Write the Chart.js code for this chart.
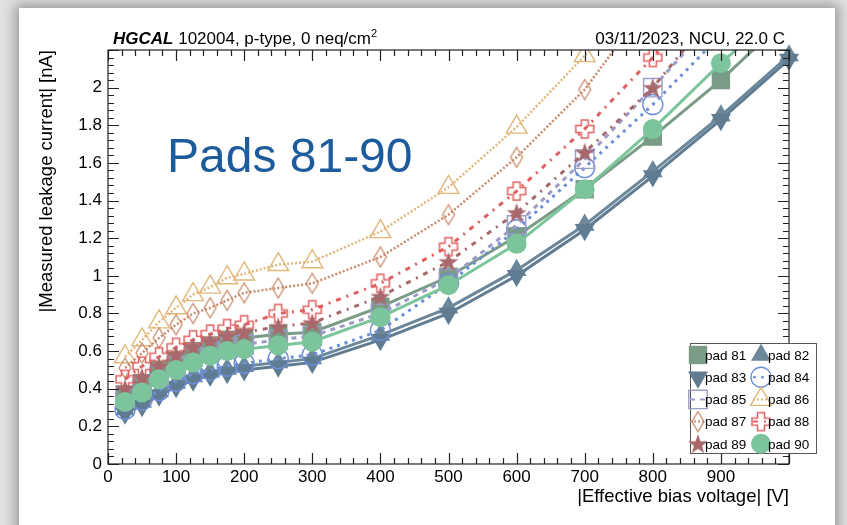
<!DOCTYPE html>
<html>
<head>
<meta charset="utf-8">
<script src="https://cdn.jsdelivr.net/npm/chart.js@4.4.1/dist/chart.umd.min.js"></script>
<style>
  html, body { margin: 0; padding: 0; }
  body { width: 847px; height: 525px; background: #e2e2e2; position: relative; overflow: hidden; font-family: "Liberation Sans", Arial, sans-serif; }
  #card { position: absolute; left: 19px; top: 8px; width: 816px; height: 540px; background: #fff; box-shadow: 0 0 12px 4px rgba(0,0,0,0.32); }
  #myChart { position: absolute; left: 0; top: 0; }
  .hdr { position: absolute; top: 30px; font-size: 17px; line-height: 18px; color: #000; white-space: nowrap; }
  .hdr sup { font-size: 11px; line-height: 0; }
  #pads { position: absolute; left: 167px; top: 132px; font-size: 48px; line-height: 48px; color: #1d5c9c; white-space: nowrap; }
</style>
</head>
<body>
<div id="card"></div>
<canvas id="myChart" width="847" height="525"></canvas>
<div class="hdr" style="left:113px;"><b><i>HGCAL</i></b> 102004, p-type, 0 neq/cm<sup>2</sup></div>
<div class="hdr" style="right:62px;">03/11/2023, NCU, 22.0 C</div>
<div id="pads">Pads 81-90</div>
<script>
// bias voltage points (V)
var voltage = [25, 50, 75, 100, 125, 150, 175, 200, 250, 300, 400, 500, 600, 700, 800, 900, 1000];

// leakage current per pad (nA)
var pad81 = [0.37, 0.43, 0.50, 0.55, 0.60, 0.63, 0.66, 0.67, 0.69, 0.70, 0.835, 0.995, 1.21, 1.46, 1.74, 2.04, 2.38];
var pad82 = [0.29, 0.33, 0.385, 0.43, 0.465, 0.49, 0.505, 0.52, 0.54, 0.56, 0.685, 0.83, 1.03, 1.27, 1.555, 1.85, 2.17];
var pad83 = [0.27, 0.31, 0.365, 0.41, 0.445, 0.47, 0.485, 0.50, 0.52, 0.54, 0.66, 0.80, 1.00, 1.245, 1.53, 1.83, 2.15];
var pad84 = [0.29, 0.34, 0.39, 0.44, 0.48, 0.50, 0.52, 0.535, 0.56, 0.58, 0.71, 0.96, 1.245, 1.575, 1.91, 2.28];
var pad85 = [0.35, 0.41, 0.47, 0.52, 0.57, 0.60, 0.62, 0.635, 0.66, 0.68, 0.80, 0.985, 1.27, 1.62, 2.00, 2.40];
var pad86 = [0.57, 0.66, 0.755, 0.83, 0.90, 0.94, 0.99, 1.01, 1.06, 1.075, 1.235, 1.47, 1.79, 2.17, 2.60];
var pad87 = [0.51, 0.59, 0.67, 0.74, 0.80, 0.83, 0.87, 0.91, 0.935, 0.96, 1.10, 1.325, 1.63, 1.99, 2.48];
var pad88 = [0.45, 0.52, 0.57, 0.62, 0.66, 0.69, 0.72, 0.74, 0.80, 0.82, 0.96, 1.155, 1.45, 1.78, 2.16, 2.55];
var pad89 = [0.40, 0.46, 0.52, 0.58, 0.62, 0.65, 0.68, 0.70, 0.73, 0.75, 0.89, 1.075, 1.335, 1.655, 2.00, 2.44];
var pad90 = [0.33, 0.38, 0.45, 0.50, 0.54, 0.575, 0.60, 0.61, 0.63, 0.65, 0.78, 0.95, 1.17, 1.46, 1.78, 2.13, 2.45];

var padNames = ["pad 81", "pad 82", "pad 83", "pad 84", "pad 85", "pad 86", "pad 87", "pad 88", "pad 89", "pad 90"];
var xTickLabels = ["0", "100", "200", "300", "400", "500", "600", "700", "800", "900"];
var yTickLabels = ["0", "0.2", "0.4", "0.6", "0.8", "1", "1.2", "1.4", "1.6", "1.8", "2"];

Chart.defaults.font.family = '"Liberation Sans", Arial, sans-serif';
Chart.defaults.color = "#000";

function toPoints(vals) {
  return vals.map(function (v, i) { return { x: voltage[i], y: v }; });
}

// little canvases for ROOT-like markers chart.js doesn't have
function makeMarker(w, h, draw) {
  var c = document.createElement("canvas");
  c.width = w;
  c.height = h;
  draw(c.getContext("2d"), w, h);
  return c;
}
var starMarker = makeMarker(22, 22, function (g, w, h) {
  g.fillStyle = "#a8686c";
  g.beginPath();
  for (var k = 0; k < 10; k++) {
    var r = k % 2 ? 4.2 : 10.5;
    var a = -Math.PI / 2 + k * Math.PI / 5;
    g.lineTo(w / 2 + r * Math.cos(a), h / 2 + 0.8 + r * Math.sin(a));
  }
  g.closePath();
  g.fill();
});
var crossMarker = makeMarker(22, 22, function (g, w, h) {
  var c = w / 2, a = 3.5, b = 9;
  g.strokeStyle = "#e06060";
  g.lineWidth = 1.5;
  g.beginPath();
  g.moveTo(c - a, c - b); g.lineTo(c + a, c - b); g.lineTo(c + a, c - a); g.lineTo(c + b, c - a);
  g.lineTo(c + b, c + a); g.lineTo(c + a, c + a); g.lineTo(c + a, c + b); g.lineTo(c - a, c + b);
  g.lineTo(c - a, c + a); g.lineTo(c - b, c + a); g.lineTo(c - b, c - a); g.lineTo(c - a, c - a);
  g.closePath();
  g.stroke();
});
var diamondMarker = makeMarker(16, 24, function (g, w, h) {
  g.strokeStyle = "#c98b6b";
  g.lineWidth = 1.3;
  g.beginPath();
  g.moveTo(w / 2, 2); g.lineTo(w - 2, h / 2); g.lineTo(w / 2, h - 2); g.lineTo(2, h / 2);
  g.closePath();
  g.stroke();
});

function series(i, vals, color, opts) {
  var ds = {
    label: padNames[i],
    data: toPoints(vals),
    borderColor: color,
    borderWidth: opts.width || 2.5,
    borderDash: opts.dash || [],
    pointStyle: opts.style,
    pointRadius: opts.radius || 10,
    pointRotation: opts.rotation || 0,
    pointBackgroundColor: opts.open ? "rgba(0,0,0,0)" : color,
    pointBorderColor: color,
    pointBorderWidth: opts.open ? 1.4 : 0,
    tension: 0,
    fill: false,
    order: 10 - i
  };
  if (opts.noclip) ds.clip = false;
  return ds;
}

var datasets = [
  series(0, pad81, "#7a9b85", { style: "rect", radius: 13, width: 3 }),
  series(1, pad82, "#6b8799", { style: "triangle", radius: 11.5, width: 3, noclip: true }),
  series(2, pad83, "#5f7c93", { style: "triangle", radius: 11.5, rotation: 180, width: 3, noclip: true }),
  series(3, pad84, "#6d8fd8", { style: "circle", radius: 10, open: true, dash: [3, 5], width: 3 }),
  series(4, pad85, "#9c9cc8", { style: "rect", radius: 13, open: true, dash: [5, 5], width: 3 }),
  series(5, pad86, "#e3b77a", { style: "triangle", radius: 12, open: true, dash: [2, 2], width: 2.5 }),
  series(6, pad87, "#c98b6b", { style: diamondMarker, dash: [2, 2], width: 2.5, open: true }),
  series(7, pad88, "#e06060", { style: crossMarker, dash: [5, 6, 2, 6], width: 3, open: true }),
  series(8, pad89, "#a8686c", { style: starMarker, dash: [5, 6, 2, 6], width: 3 }),
  series(9, pad90, "#7cc59c", { style: "circle", radius: 10, width: 3 })
];

// ROOT style frame with inward ticks on all four sides
var framePlugin = {
  id: "frame",
  afterDatasetsDraw: function (chart) {
    var ctx = chart.ctx, a = chart.chartArea, xs = chart.scales.x, ys = chart.scales.y;
    ctx.save();
    ctx.strokeStyle = "#222";
    ctx.lineWidth = 1.2;
    ctx.strokeRect(a.left, a.top, a.right - a.left, a.bottom - a.top);
    ctx.beginPath();
    for (var v = 0; v <= 1000; v += 20) {
      var px = Math.round(xs.getPixelForValue(v)) + 0.5;
      var len = v % 100 === 0 ? 11 : 6;
      ctx.moveTo(px, a.bottom); ctx.lineTo(px, a.bottom - len);
      ctx.moveTo(px, a.top); ctx.lineTo(px, a.top + len);
    }
    for (var k = 0; k <= 55; k++) {
      var py = Math.round(ys.getPixelForValue(k * 0.04)) + 0.5;
      var l2 = k % 5 === 0 ? 11 : 6;
      ctx.moveTo(a.left, py); ctx.lineTo(a.left + l2, py);
      ctx.moveTo(a.right, py); ctx.lineTo(a.right - l2, py);
    }
    ctx.stroke();
    ctx.restore();
  }
};

var legendPlugin = {
  id: "padLegend",
  afterDraw: function (chart) {
    var ctx = chart.ctx;
    ctx.save();
    ctx.fillStyle = "#fff";
    ctx.fillRect(690.5, 343.5, 126, 110);
    ctx.strokeStyle = "#555";
    ctx.lineWidth = 1;
    ctx.strokeRect(690.5, 343.5, 126, 110);
    chart.data.datasets.forEach(function (ds, i) {
      var col = i % 2, row = Math.floor(i / 2);
      var mx = col ? 761 : 698, my = 355 + row * 22.2;
      if (ds.borderDash.length && ds.pointBackgroundColor !== ds.borderColor) {
        ctx.setLineDash(ds.borderDash);
        ctx.strokeStyle = ds.borderColor;
        ctx.lineWidth = 2;
        ctx.beginPath();
        ctx.moveTo(mx - 8, my); ctx.lineTo(mx + 8, my);
        ctx.stroke();
      }
      ctx.setLineDash([]);
      ctx.fillStyle = ds.pointBackgroundColor;
      ctx.strokeStyle = ds.pointBorderColor;
      ctx.lineWidth = ds.pointBorderWidth;
      Chart.helpers.drawPoint(ctx, {
        pointStyle: ds.pointStyle,
        rotation: ds.pointRotation,
        radius: ds.pointRadius,
        borderWidth: ds.pointBorderWidth
      }, mx, my);
      ctx.fillStyle = "#000";
      ctx.font = '13.5px "Liberation Sans", Arial, sans-serif';
      ctx.textBaseline = "middle";
      ctx.textAlign = "left";
      ctx.fillText(ds.label, mx + 7, my + 1);
    });
    ctx.restore();
  }
};

var ctx = document.getElementById("myChart").getContext("2d");
new Chart(ctx, {
  type: "line",
  data: { datasets: datasets },
  plugins: [framePlugin, legendPlugin],
  options: {
    responsive: false,
    animation: false,
    layout: { padding: { top: 50, right: 58, left: 0, bottom: 0 } },
    plugins: { legend: { display: false }, tooltip: { enabled: false } },
    scales: {
      x: {
        type: "linear",
        min: 0,
        max: 1000,
        grid: { display: false, drawTicks: false },
        border: { display: false },
        ticks: {
          stepSize: 100,
          maxRotation: 0,
          autoSkip: false,
          padding: 3,
          font: { size: 17 },
          callback: function (v, i) { return xTickLabels[i] === undefined ? "" : xTickLabels[i]; }
        },
        title: {
          display: true,
          text: "|Effective bias voltage| [V]",
          align: "end",
          font: { size: 18.5 },
          padding: { top: 0, bottom: 17 }
        },
        afterFit: function (s) { s.height = 61; }
      },
      y: {
        min: 0,
        max: 2.2,
        grid: { display: false, drawTicks: false },
        border: { display: false },
        ticks: {
          stepSize: 0.2,
          padding: 6,
          font: { size: 17 },
          callback: function (v, i) { return yTickLabels[i] === undefined ? "" : yTickLabels[i]; }
        },
        title: {
          display: true,
          text: "|Measured leakage current| [nA]",
          align: "end",
          font: { size: 18.5 },
          padding: { top: 36, bottom: 0 }
        },
        afterFit: function (s) { s.width = 108; }
      }
    }
  }
});
</script>
</body>
</html>
